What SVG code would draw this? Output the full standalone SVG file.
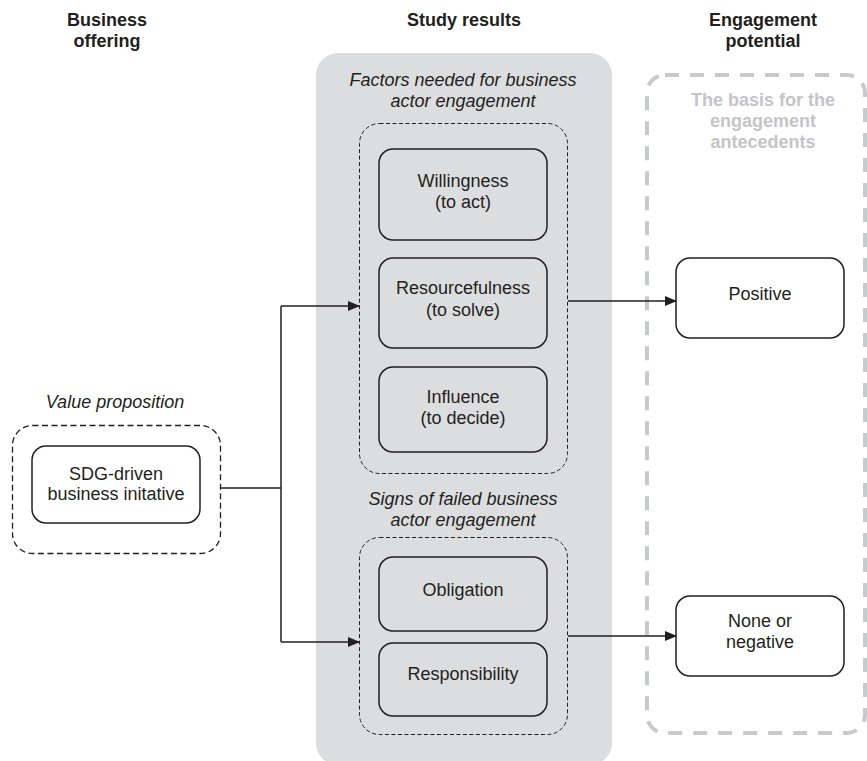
<svg xmlns="http://www.w3.org/2000/svg" width="867" height="761" viewBox="0 0 867 761">
<defs>
<style>
text{font-family:"Liberation Sans",Arial,sans-serif;font-size:18px;fill:#231f20;text-anchor:middle}
.hd{font-weight:bold}
.it{font-style:italic}
.lt{font-weight:bold;fill:#c4c5c7}
.box{fill:none;stroke:#231f20;stroke-width:1.5}
.wbox{fill:#fff;stroke:#231f20;stroke-width:1.5}
.dash{fill:none;stroke:#231f20;stroke-width:1;stroke-dasharray:4 2.5}
.vdash{fill:none;stroke:#231f20;stroke-width:1.3;stroke-dasharray:6 3.5}
.gdash{fill:none;stroke:#c8c9cb;stroke-width:4;stroke-dasharray:14 11}
.con{fill:none;stroke:#231f20;stroke-width:1.5}
</style>
<marker id="ah" markerWidth="12" markerHeight="10" refX="11" refY="5" orient="auto" markerUnits="userSpaceOnUse">
<path d="M0,0 L12,5 L0,10 Z" fill="#231f20"/>
</marker>
</defs>
<rect width="867" height="761" fill="#fff"/>

<g id="headers">
<text class="hd" x="107" y="26">Business</text>
<text class="hd" x="107" y="47">offering</text>
<text class="hd" x="464" y="26">Study results</text>
<text class="hd" x="763" y="26">Engagement</text>
<text class="hd" x="763" y="47">potential</text>
</g>

<g id="study-panel">
<rect x="316" y="53" width="296" height="712" rx="22" fill="#dcdddf"/>
</g>

<g id="engagement-panel">
<rect class="gdash" x="647" y="75" width="218" height="658" rx="18"/>
<text class="lt" x="763" y="106">The basis for the</text>
<text class="lt" x="763" y="127">engagement</text>
<text class="lt" x="763" y="148">antecedents</text>
</g>

<g id="factors-group">
<text class="it" x="463" y="86">Factors needed for business</text>
<text class="it" x="463" y="107">actor engagement</text>
<rect class="dash" x="359.5" y="123.5" width="208" height="350" rx="20"/>
</g>

<g id="willingness">
<rect class="box" x="379" y="149" width="168" height="91" rx="14"/>
<text x="463" y="187">Willingness</text>
<text x="463" y="208">(to act)</text>
</g>
<g id="resourcefulness">
<rect class="box" x="379" y="258" width="168" height="90" rx="14"/>
<text x="463" y="294">Resourcefulness</text>
<text x="463" y="316">(to solve)</text>
</g>
<g id="influence">
<rect class="box" x="379" y="367" width="168" height="85" rx="14"/>
<text x="463" y="403">Influence</text>
<text x="463" y="424">(to decide)</text>
</g>

<g id="signs-group">
<text class="it" x="463" y="505">Signs of failed business</text>
<text class="it" x="463" y="526">actor engagement</text>
<rect class="dash" x="359.5" y="537.5" width="208" height="197" rx="20"/>
</g>
<g id="obligation">
<rect class="box" x="379" y="557" width="168" height="74" rx="14"/>
<text x="463" y="596">Obligation</text>
</g>
<g id="responsibility">
<rect class="box" x="379" y="643" width="168" height="73" rx="14"/>
<text x="463" y="680">Responsibility</text>
</g>

<g id="value-proposition">
<text class="it" x="115" y="408">Value proposition</text>
<rect class="vdash" x="12.5" y="425.5" width="208" height="128" rx="20"/>
</g>
<g id="sdg">
<rect class="box" x="32" y="446" width="168" height="77" rx="14"/>
<text x="116" y="480">SDG-driven</text>
<text x="116" y="500">business initative</text>
</g>

<g id="positive">
<rect class="wbox" x="676" y="258" width="168" height="80" rx="14"/>
<text x="760" y="300">Positive</text>
</g>
<g id="none-negative">
<rect class="wbox" x="676" y="596" width="168" height="80" rx="14"/>
<text x="760" y="627">None or</text>
<text x="760" y="648">negative</text>
</g>

<g id="connectors">
<path class="con" d="M221,488 H281"/>
<path class="con" d="M281,306 V642"/>
<path class="con" d="M281,306 H359" marker-end="url(#ah)"/>
<path class="con" d="M281,642 H359" marker-end="url(#ah)"/>
<path class="con" d="M568,301 H676" marker-end="url(#ah)"/>
<path class="con" d="M568,636 H676" marker-end="url(#ah)"/>
</g>
</svg>
